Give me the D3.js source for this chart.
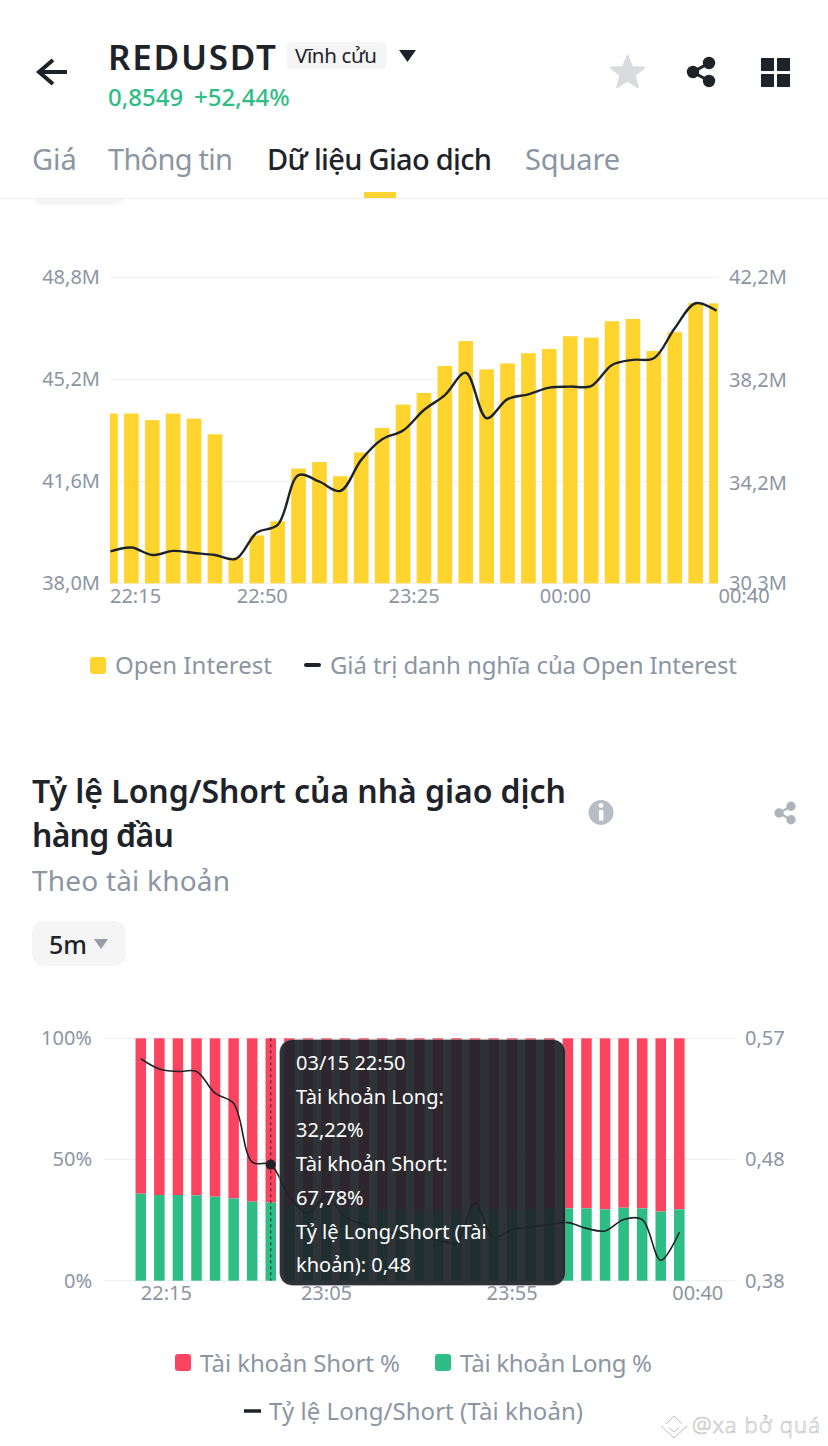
<!DOCTYPE html>
<html><head><meta charset="utf-8">
<script src="https://cdn.jsdelivr.net/npm/d3@7"></script>
<style>html,body{margin:0;padding:0;background:#fff}svg{display:block;font-family:"Noto Sans",sans-serif}</style>
</head><body><svg id="c" width="828" height="1446"></svg>
<script>
const times = ["22:15","22:20","22:25","22:30","22:35","22:40","22:45","22:50","22:55","23:00","23:05","23:10","23:15","23:20","23:25","23:30","23:35","23:40","23:45","23:50","23:55","00:00","00:05","00:10","00:15","00:20","00:25","00:30","00:35","00:40"];
const openInterest = [43.99,43.99,43.76,43.99,43.81,43.26,38.91,39.69,40.19,42.05,42.28,41.78,42.62,43.48,44.31,44.72,45.67,46.55,45.55,45.76,46.12,46.27,46.72,46.67,47.25,47.33,46.2,46.86,47.89,47.88];
const notionalValue = [31.54,31.69,31.40,31.56,31.48,31.40,31.25,32.27,32.57,34.51,34.25,33.89,35.10,35.90,36.24,37.04,37.62,38.49,36.72,37.46,37.65,37.91,37.95,37.97,38.79,38.99,39.05,40.22,41.19,40.90];
const oiTicksLeft = [38.0,41.6,45.2,48.8];
const oiTicksRight = [30.3,34.2,38.2,42.2];
const oiXTicks = ["22:15","22:50","23:25","00:00","00:40"];

const longPct = [35.9,35.35,35.35,35.2,34.66,33.98,32.6,32.22,30.8,30.2,30.8,30.1,29.8,29.5,29.4,29.3,29.2,29.1,30.6,29.3,29.6,29.7,29.8,29.85,29.85,29.44,30.1,29.85,28.5,29.44];
const shortPct = longPct.map(v => 100 - v);
const lsRatio = [.554,.546,.544,.544,.527,.519,.473,.471,.446,.433,.446,.430,.424,.419,.417,.414,.412,.410,.441,.414,.420,.422,.424,.4255,.421,.419,.428,.428,.396,.418];
const pctTicks = [0,50,100];
const ratioTicks = [.38,.475,.57];
const lsXTicks = ["22:15","23:05","23:55","00:40"];
const tooltipLines = ["03/15 22:50","Tài khoản Long:","32,22%","Tài khoản Short:","67,78%","Tỷ lệ Long/Short (Tài","khoản): 0,48"];
const selectedTime = "22:50";

const DARK="#1E2329", GREY="#8C95A2", GRID="#EDEEF1", YEL="#FFD42F", RED="#FB4560", GRN="#2EBD85";
const svg = d3.select("#c");
function txt(x,y,s,size,fill,weight,anchor){
  return svg.append("text").attr("x",x).attr("y",y).text(s).attr("font-size",size).attr("fill",fill)
    .attr("font-weight",weight||400).attr("text-anchor",anchor||"start");
}
function styleAxis(g,size){
  g.select(".domain").remove(); g.selectAll(".tick line").remove();
  g.selectAll("text").attr("font-size",size).attr("fill",GREY).attr("font-family",'"Noto Sans",sans-serif');
}
const comma = (v,d)=>v.toFixed(d).replace(".",",");

/* ---------- header ---------- */
svg.append("path").attr("d","M67 72H40M53 60L39 72L53 84").attr("fill","none").attr("stroke",DARK).attr("stroke-width",4);
txt(108,70,"REDUSDT",35,DARK,600).attr("textLength",168);
svg.append("rect").attr("x",287).attr("y",42).attr("width",99).attr("height",27).attr("rx",4).attr("fill","#F5F5F5");
txt(295,63,"Vĩnh cửu",20.5,DARK,400).attr("textLength",82);
svg.append("path").attr("d","M399 50H416L407.5 62Z").attr("fill",DARK);
txt(108,106,"0,8549",24,GRN,500);
txt(194,106,"+52,44%",24,GRN,500);
svg.append("path").attr("d",d3.range(10).map(i=>{const r=i%2?7.5:17.5,a=-Math.PI/2+i*Math.PI/5;return (i?"L":"M")+(627.5+r*Math.cos(a)).toFixed(1)+" "+(73+r*Math.sin(a)).toFixed(1)}).join("")+"Z").attr("fill","#D9DBDF").attr("stroke","#D9DBDF").attr("stroke-width",2).attr("stroke-linejoin","round");
function share(cx,cy,s,col){
  svg.append("path").attr("d",`M${cx+8*s} ${cy-9*s}L${cx-8*s} ${cy}L${cx+8*s} ${cy+9*s}`).attr("fill","none").attr("stroke",col).attr("stroke-width",3*s);
  [[8,-9],[-8,0],[8,9]].forEach(p=>svg.append("circle").attr("cx",cx+p[0]*s).attr("cy",cy+p[1]*s).attr("r",6.2*s).attr("fill",col));
}
share(701,72,1,DARK);
[[761,58],[777,58],[761,74],[777,74]].forEach(p=>svg.append("rect").attr("x",p[0]).attr("y",p[1]).attr("width",13).attr("height",13).attr("fill",DARK));
txt(32,170,"Giá",29,GREY,400);
txt(108,170,"Thông tin",29,GREY,400).attr("textLength",125);
txt(267,170,"Dữ liệu Giao dịch",29,DARK,500).attr("textLength",225);
txt(525,170,"Square",29,GREY,400).attr("textLength",95);
svg.append("rect").attr("x",32).attr("y",180).attr("width",94).attr("height",25).attr("rx",12).attr("fill","#F5F5F5");
svg.append("rect").attr("x",0).attr("y",0).attr("width",828).attr("height",198).attr("fill","#fff").lower();
svg.append("rect").attr("x",0).attr("y",180).attr("width",828).attr("height",18).attr("fill","#fff");
svg.append("rect").attr("x",0).attr("y",198).attr("width",828).attr("height",1).attr("fill",GRID);
svg.append("rect").attr("x",364).attr("y",192).attr("width",32).attr("height",6).attr("fill","#FCD535");

/* ---------- open interest chart ---------- */
const x1 = d3.scaleBand().domain(times).range([100,727]).paddingInner(.3).paddingOuter(.15);
const yL1 = d3.scaleLinear().domain([38,48.8]).range([583.3,277.3]);
const yR1 = d3.scaleLinear().domain([30.3,42.2]).range([583.3,277.3]);
svg.append("defs").append("clipPath").attr("id","clip1").append("rect").attr("x",110).attr("y",270).attr("width",608).attr("height",320);
svg.append("g").selectAll("line").data(oiTicksLeft).join("line").attr("x1",110).attr("x2",718)
  .attr("y1",d=>yL1(d)).attr("y2",d=>yL1(d)).attr("stroke",GRID);
const g1 = svg.append("g").attr("clip-path","url(#clip1)");
g1.selectAll("rect").data(times).join("rect").attr("x",d=>x1(d)).attr("width",x1.bandwidth())
  .attr("y",(d,i)=>yL1(openInterest[i])).attr("height",(d,i)=>yL1(38)-yL1(openInterest[i])).attr("fill",YEL);
g1.append("path").attr("d",d3.line().x((d,i)=>x1(times[i])+x1.bandwidth()/2).y(d=>yR1(d)).curve(d3.curveCatmullRom.alpha(.5))(notionalValue))
  .attr("fill","none").attr("stroke",DARK).attr("stroke-width",2.4);
const aL1 = svg.append("g").attr("transform","translate(100,0)").call(d3.axisLeft(yL1).tickValues(oiTicksLeft).tickSize(0).tickPadding(0).tickFormat(d=>comma(d,1)+"M"));
styleAxis(aL1,20);
const aR1 = svg.append("g").attr("transform","translate(729,0)").call(d3.axisRight(yR1).tickValues(oiTicksRight).tickSize(0).tickPadding(0).tickFormat(d=>comma(d,1)+"M"));
styleAxis(aR1,20);
const aX1 = svg.append("g").attr("transform","translate(0,589)").call(d3.axisBottom(x1).tickValues(oiXTicks).tickSize(0).tickPadding(0));
styleAxis(aX1,20);
const oiDx=[-.5,5.5,11,16,27.5];
aX1.selectAll("text").attr("dx",(d,i)=>oiDx[i]).attr("text-anchor",(d,i)=>i==0?"start":"middle").attr("dy","0.71em").attr("y",0);

/* legend 1 */
svg.append("rect").attr("x",90).attr("y",657).attr("width",16).attr("height",17).attr("rx",3).attr("fill",YEL);
txt(115,674,"Open Interest",24,GREY).attr("textLength",157);
svg.append("line").attr("x1",306).attr("x2",319).attr("y1",665).attr("y2",665).attr("stroke",DARK).attr("stroke-width",4).attr("stroke-linecap","round");
txt(330,674,"Giá trị danh nghĩa của Open Interest",24,GREY).attr("textLength",407);

/* ---------- section title ---------- */
txt(32,803,"Tỷ lệ Long/Short của nhà giao dịch",32,DARK,600).attr("textLength",534);
txt(32,847,"hàng đầu",32,DARK,600).attr("textLength",142);
txt(32,891,"Theo tài khoản",28,GREY,400).attr("textLength",198);
svg.append("circle").attr("cx",601).attr("cy",812.5).attr("r",12.5).attr("fill","#B7BDC6");
svg.append("circle").attr("cx",601).attr("cy",805.5).attr("r",2.4).attr("fill","#fff");
svg.append("rect").attr("x",599).attr("y",810).attr("width",4.4).attr("height",10.5).attr("fill","#fff");
share(785,813,.75,"#AEB4BC");
svg.append("rect").attr("x",32).attr("y",921).attr("width",94).attr("height",45).attr("rx",12).attr("fill","#F5F5F5");
txt(49,954,"5m",25,DARK,500);
svg.append("path").attr("d","M94 939H108L101 949Z").attr("fill","#9A9DA3");

/* ---------- long/short chart ---------- */
const x2 = d3.scaleBand().domain(times).range([131.5,688.6]).paddingInner(.434).paddingOuter(.217);
const yL2 = d3.scaleLinear().domain([0,100]).range([1280.7,1038.3]);
const yR2 = d3.scaleLinear().domain([.38,.57]).range([1280.7,1038.3]);
svg.append("g").selectAll("line").data(pctTicks).join("line").attr("x1",104).attr("x2",735)
  .attr("y1",d=>yL2(d)).attr("y2",d=>yL2(d)).attr("stroke",GRID);
const g2 = svg.append("g");
g2.selectAll("rect.s").data(times).join("rect").attr("class","s").attr("x",d=>x2(d)).attr("width",x2.bandwidth())
  .attr("y",yL2(100)).attr("height",(d,i)=>yL2(longPct[i])-yL2(100)).attr("fill",RED);
g2.selectAll("rect.l").data(times).join("rect").attr("class","l").attr("x",d=>x2(d)).attr("width",x2.bandwidth())
  .attr("y",(d,i)=>yL2(longPct[i])).attr("height",(d,i)=>yL2(0)-yL2(longPct[i])).attr("fill",GRN);
const cx2 = d=>x2(d)+x2.bandwidth()/2;
g2.append("path").attr("d",d3.line().x((d,i)=>cx2(times[i])).y(d=>yR2(d)).curve(d3.curveCatmullRom.alpha(.5))(lsRatio))
  .attr("fill","none").attr("stroke",DARK).attr("stroke-width",1.6);
const sel = times.indexOf(selectedTime);
g2.append("line").attr("x1",cx2(selectedTime)).attr("x2",cx2(selectedTime)).attr("y1",yL2(100)).attr("y2",yL2(0))
  .attr("stroke",DARK).attr("stroke-dasharray","3 3");
g2.append("circle").attr("cx",cx2(selectedTime)).attr("cy",yR2(lsRatio[sel])).attr("r",5).attr("fill",DARK);
const aL2 = svg.append("g").attr("transform","translate(92,0)").call(d3.axisLeft(yL2).tickValues(pctTicks).tickSize(0).tickPadding(0).tickFormat(d=>d+"%"));
styleAxis(aL2,20);
const aR2 = svg.append("g").attr("transform","translate(745,0)").call(d3.axisRight(yR2).tickValues(ratioTicks).tickSize(0).tickPadding(0).tickFormat(d=>comma(Math.round(d*100+1e-6)/100,2)));
styleAxis(aR2,20);
const aX2 = svg.append("g").attr("transform","translate(0,1286)").call(d3.axisBottom(x2).tickValues(lsXTicks).tickSize(0).tickPadding(0));
styleAxis(aX2,20);
const lsDx=[0,0,0,44];
aX2.selectAll("text").attr("dx",(d,i)=>lsDx[i]).attr("text-anchor",(d,i)=>i==0?"start":i==3?"end":"middle").attr("dy","0.71em").attr("y",0);

/* tooltip */
svg.append("rect").attr("x",279.5).attr("y",1039.5).attr("width",286).attr("height",246).attr("rx",13).attr("fill","#1E2329").attr("fill-opacity",.93).attr("stroke","#fff").attr("stroke-opacity",.25);
tooltipLines.forEach((s,i)=>txt(296,1070+i*33.7,s,20,"#fff",400));

/* legend 2 */
svg.append("rect").attr("x",175).attr("y",1354).attr("width",16).attr("height",17).attr("rx",3).attr("fill",RED);
txt(200,1372,"Tài khoản Short %",24,GREY).attr("textLength",200);
svg.append("rect").attr("x",435).attr("y",1354).attr("width",16).attr("height",17).attr("rx",3).attr("fill",GRN);
txt(460,1372,"Tài khoản Long %",24,GREY).attr("textLength",192);
svg.append("line").attr("x1",244).attr("x2",261).attr("y1",1411).attr("y2",1411).attr("stroke",DARK).attr("stroke-width",3.5);
txt(269,1420,"Tỷ lệ Long/Short (Tài khoản)",24,GREY).attr("textLength",314);

/* watermark */
svg.append("path").attr("d","M661 1426L674 1438L687 1426M666 1424L674 1416L682 1424M669 1428L674 1432L679 1428").attr("fill","none").attr("stroke","#BDBDBD").attr("stroke-width",1);
txt(692,1433,"@xa bở quá",22,"#fff",300).attr("stroke","#BDBDBD").attr("stroke-width",.6).attr("textLength",128);
</script></body></html>
